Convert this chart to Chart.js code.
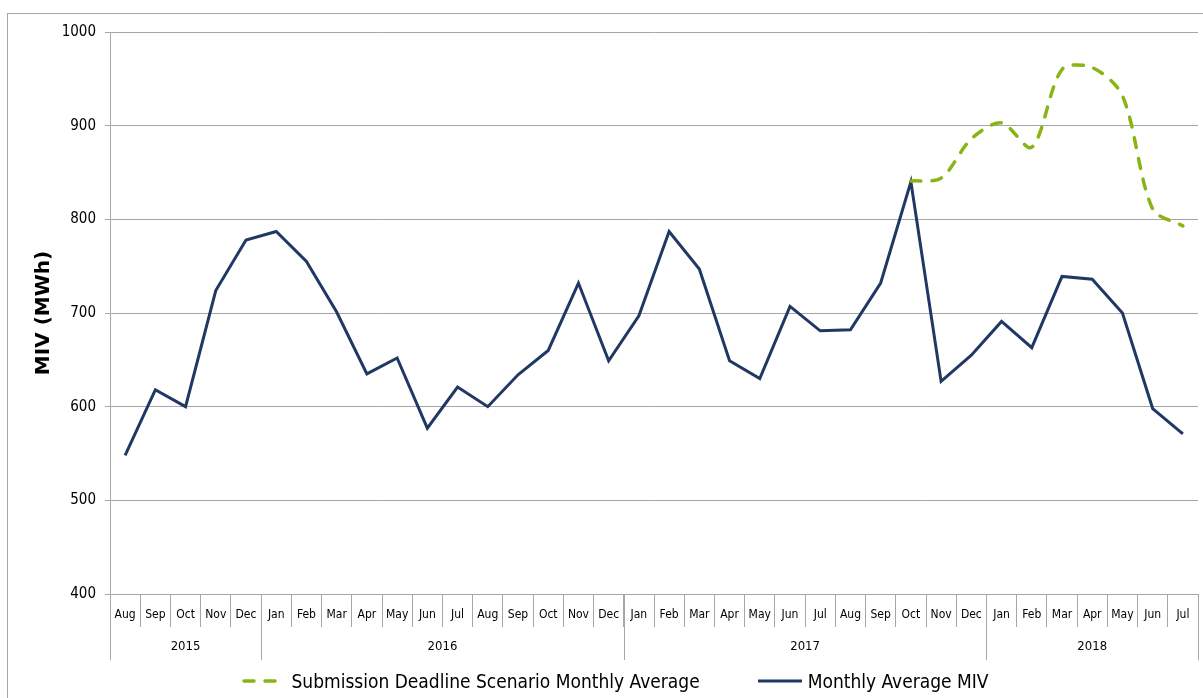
<!doctype html>
<html lang="en">
  <head>
    <meta charset="utf-8">
    <title>Monthly Average MIV</title>
    <style>
      * {
        margin: 0;
        padding: 0;
      }
      body {
        width: 1203px;
        height: 698px;
        overflow: hidden;
        position: relative;
        background: #fff;
        font-family: "DejaVu Sans Condensed", "DejaVu Sans", sans-serif;
      }
      .frame {
        position: absolute;
        left: 7px;
        top: 13px;
        width: 1220px;
        height: 720px;
        border: 1px solid #a6a6a6;
      }
      .chartBox {
        position: absolute;
        left: 0;
        top: 0;
        width: 1203px;
        height: 698px;
      }
      #legend {
        position: absolute;
        left: 0;
        top: 669px;
        width: 1230px;
        display: flex;
        justify-content: center;
        gap: 58px;
        font-size: 19px;
        color: #000;
      }
      .item {
        display: flex;
        align-items: center;
        height: 24px;
      }
      .item svg {
        margin-right: 6px;
      }
    </style>
  </head>
  <body>
    <div class="frame"></div>
    <div class="chartBox">
      <canvas id="myChart"></canvas>
    </div>
    <div id="legend"></div>
    <script src="https://cdn.jsdelivr.net/npm/chart.js/dist/chart.umd.min.js"></script>
    <script>
    // categories
    const months = ['Aug', 'Sep', 'Oct', 'Nov', 'Dec',
      'Jan', 'Feb', 'Mar', 'Apr', 'May', 'Jun', 'Jul', 'Aug', 'Sep', 'Oct', 'Nov', 'Dec',
      'Jan', 'Feb', 'Mar', 'Apr', 'May', 'Jun', 'Jul', 'Aug', 'Sep', 'Oct', 'Nov', 'Dec',
      'Jan', 'Feb', 'Mar', 'Apr', 'May', 'Jun', 'Jul'];
    const years = ['2015', '2016', '2017', '2018'];
    // index of the first month of each year in months
    const yearStart = [0, 5, 17, 29];

    // series values (MWh)
    const monthlyMIV = [548, 618, 600, 724, 778,
      787, 755, 701, 635, 652, 577, 621, 600, 634, 660, 732, 649,
      697, 787, 747, 649, 630, 707, 681, 682, 732, 840, 627, 655,
      691, 663, 739, 736, 700, 598, 571];
    const deadlineScenario = [null, null, null, null, null,
      null, null, null, null, null, null, null, null, null, null, null, null,
      null, null, null, null, null, null, null, null, null, 841, 844, 886,
      903, 877, 960, 962, 932, 811, 793];

    // y axis ticks
    const yMin = 400;
    const yMax = 1000;
    const yStep = 100;

    const gridColor = '#a6a6a6';
    const font = '"DejaVu Sans Condensed", "DejaVu Sans", sans-serif';

    // second row of the x axis: years and the long separators
    const yearRow = {
      id: 'yearRow',
      afterDraw(chart) {
        const { ctx } = chart;
        const x = chart.scales.x;
        const step = (x.right - x.left) / months.length;
        const edges = yearStart.concat(months.length);
        ctx.save();
        ctx.strokeStyle = gridColor;
        ctx.lineWidth = 1;
        edges.forEach(i => {
          const px = Math.round(x.left + i * step) + 0.5;
          ctx.beginPath();
          ctx.moveTo(px, x.top);
          ctx.lineTo(px, x.bottom);
          ctx.stroke();
        });
        ctx.fillStyle = '#000';
        ctx.font = '13px ' + font;
        ctx.textAlign = 'center';
        ctx.textBaseline = 'middle';
        years.forEach((yr, k) => {
          const mid = x.left + (edges[k] + edges[k + 1]) / 2 * step;
          ctx.fillText(yr, mid, x.top + 53);
        });
        ctx.restore();
      }
    };

    const data = {
      labels: months,
      datasets: [{
        label: 'Submission Deadline Scenario Monthly Average',
        data: deadlineScenario,
        borderColor: '#88b514',
        borderWidth: 3.5,
        borderDash: [10, 11],
        borderCapStyle: 'round',
        tension: 0.3,
        pointRadius: 0,
        spanGaps: false
      }, {
        label: 'Monthly Average MIV',
        data: monthlyMIV,
        borderColor: '#203864',
        borderWidth: 3,
        tension: 0,
        pointRadius: 0
      }]
    };

    const config = {
      type: 'line',
      data,
      options: {
        responsive: false,
        animation: false,
        layout: {
          padding: { left: 28, right: 5, top: 32, bottom: 38 }
        },
        plugins: {
          legend: { display: false },
          tooltip: { enabled: false }
        },
        scales: {
          x: {
            offset: true,
            grid: {
              offset: true,
              drawOnChartArea: false,
              tickLength: 33,
              color: gridColor
            },
            border: { color: gridColor },
            ticks: {
              autoSkip: false,
              maxRotation: 0,
              padding: -19,
              color: '#000',
              font: { family: font, size: 12 }
            },
            afterFit: s => { s.height = 66; }
          },
          y: {
            min: yMin,
            max: yMax,
            ticks: {
              stepSize: yStep,
              padding: 9,
              color: '#000',
              font: { family: font, size: 15 },
              callback: v => String(v)
            },
            grid: {
              color: gridColor,
              tickLength: 5
            },
            border: { color: gridColor },
            title: {
              display: true,
              text: 'MIV (MWh)',
              color: '#000',
              font: { family: '"DejaVu Sans", sans-serif', size: 20, weight: 'bold' }
            },
            afterFit: s => { s.width = 82; }
          }
        }
      },
      plugins: [yearRow]
    };

    const canvas = document.getElementById('myChart');
    canvas.width = 1203;
    canvas.height = 698;
    const myChart = new Chart(canvas, config);

    // html legend built from the datasets
    const legend = document.getElementById('legend');
    myChart.data.datasets.forEach(ds => {
      const item = document.createElement('div');
      item.className = 'item';
      const dash = ds.borderDash ? `stroke-dasharray="${ds.borderDash.join(' ')}" stroke-linecap="round"` : '';
      item.innerHTML = `<svg width="44" height="8"><line x1="${ds.borderDash ? 3 : 0}" y1="4" x2="${ds.borderDash ? 41 : 44}" y2="4" stroke="${ds.borderColor}" stroke-width="${ds.borderWidth}" ${dash}/></svg><span>${ds.label}</span>`;
      legend.appendChild(item);
    });
    </script>
  </body>
</html>
